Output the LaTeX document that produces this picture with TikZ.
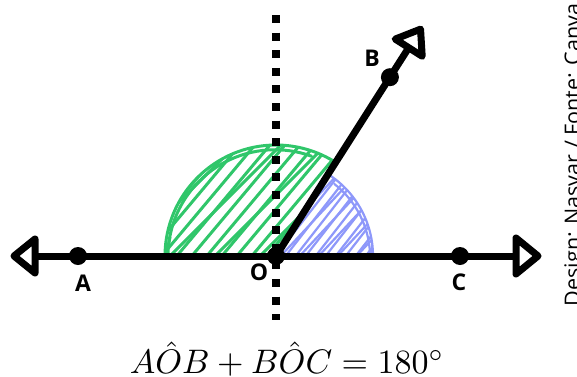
\documentclass[tikz,border=0pt]{standalone}
\usepackage{fontspec}
\setsansfont{Open Sans}
\newfontfamily\labelfont{Open Sans}
\usetikzlibrary{calc}
\definecolor{hatchgreen}{RGB}{48,198,106}
\definecolor{hatchblue}{RGB}{142,152,250}
\tikzset{
  thickline/.style={line width=7pt, line cap=butt},
  arrowtri/.style={line width=7pt, line join=round, fill=white},
  dotmark/.style={circle, fill=black, inner sep=0pt, minimum size=18pt},
  ptlabel/.style={font=\labelfont\bfseries\fontsize{23}{26}\selectfont, inner sep=0pt},
  gline/.style={hatchgreen, line width=3pt, line cap=round},
  bline/.style={hatchblue, line width=2.2pt, line cap=round},
}
\begin{document}
\begin{tikzpicture}[x=1pt,y=1pt]
\useasboundingbox (0,0) rectangle (577,376);
\coordinate (O) at (276,120);
\def\ang{57.5}
% green hatched sector
\begin{scope}
  \clip (O) -- ++(180:111) arc[start angle=180,end angle=\ang,radius=111] -- cycle;
  \foreach \i in {40,55,...,330} \draw[gline] (\i,100) -- ++(50:270);
  \foreach \i in {60,105,...,330} \draw[gline] (\i,100) -- ++(45:270);
\end{scope}
\draw[gline] ($(O)+(-111,0)$) arc[start angle=180,end angle=\ang,radius=111];
\draw[gline] ($(O)+(-108,3)$) arc[start angle=178,end angle=70,radius=107];
\draw[gline] ($(O)+(-110,-1)$) -- ++(4,20);
% blue hatched sector
\begin{scope}
  \clip (O) -- ++(0:97) arc[start angle=0,end angle=\ang,radius=97] -- cycle;
  \foreach \i in {200,210,...,380} \draw[bline] (\i,100) -- ++(52:200);
  \foreach \i in {205,224,...,380} \draw[bline] (\i,100) -- ++(47:200);
\end{scope}
\draw[bline] ($(O)+(97,0)$) arc[start angle=0,end angle=\ang,radius=97];
\draw[bline] ($(O)+(94,2)$) arc[start angle=2,end angle=52,radius=93];
\draw[bline] ($(O)+(96,0)$) -- ++(0,12);
% vertical dotted line
\coordinate (Vtop) at (276,361);
\coordinate (Vbot) at (276,56);
\draw[line width=8pt, dash pattern=on 8pt off 9.6pt] (Vtop) -- (Vbot);
% horizontal line with arrows
\coordinate (Lbase) at (35,120);
\coordinate (Rbase) at (516,120);
\coordinate (Ltip) at (14,120);
\coordinate (Rtip) at (538,120);
\draw[thickline] (Lbase) -- (Rbase);
\draw[arrowtri] (Ltip) -- ($(Lbase)+(0,17)$) -- ($(Lbase)+(0,-17)$) -- cycle;
\draw[arrowtri] (Rtip) -- ($(Rbase)+(0,18)$) -- ($(Rbase)+(0,-18)$) -- cycle;
% ray OB
\coordinate (Bbase) at ($(O)+(\ang:247)$);
\coordinate (Btip) at ($(O)+(\ang:269)$);
\draw[thickline] (O) -- (Bbase);
\draw[arrowtri] (Btip) -- ($(Bbase)+(\ang+90:16)$) -- ($(Bbase)+(\ang-90:16)$) -- cycle;
% points
\node[dotmark] (A) at (78,120) {};
\node[dotmark] (C) at (460,120) {};
\node[dotmark] (Od) at (O) {};
\node[dotmark] (B) at ($(O)+(\ang:212)$) {};
\node[ptlabel] (Alab) at (83,93) {A};
\node[ptlabel] (Clab) at (459,94) {C};
\node[ptlabel] (Olab) at (259,104) {O};
\node[ptlabel] (Blab) at (372,318) {B};
% equation
\node[inner sep=0pt, scale=3.4] (eq) at (287,17) {$A\hat{O}B + B\hat{O}C = 180^\circ$};
% credit
\node[rotate=90, anchor=base, inner sep=0pt, font=\labelfont\fontsize{21.5}{24}\selectfont] (credit) at (580,221) {Design: Nasvar / Fonte: Canva};
\end{tikzpicture}
\end{document}
